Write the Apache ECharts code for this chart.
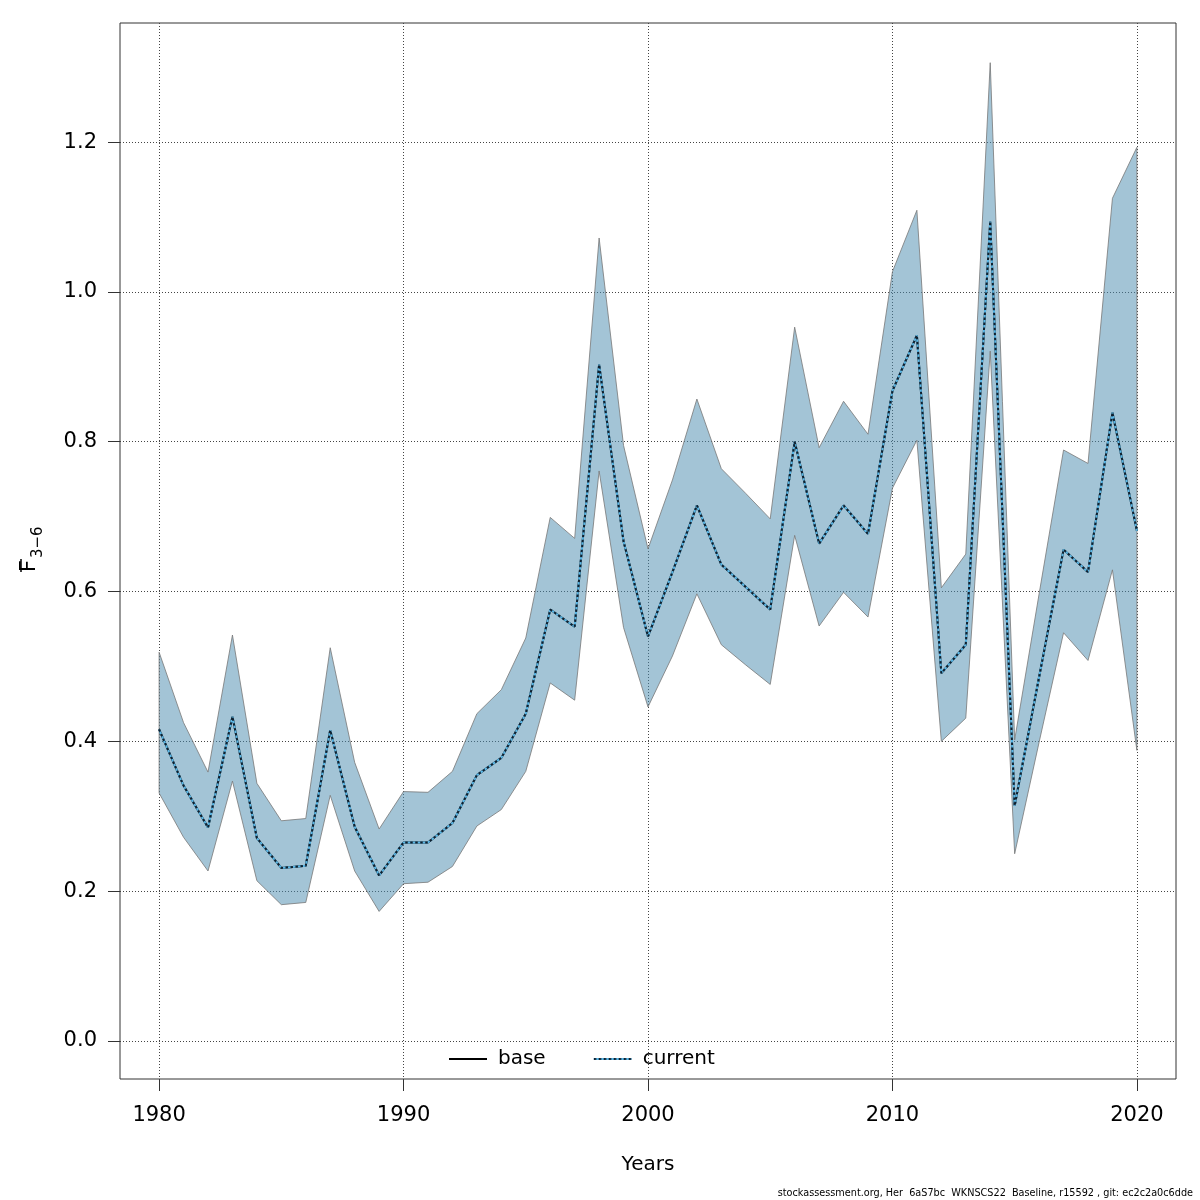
<!DOCTYPE html>
<html>
<head>
<meta charset="utf-8">
<script src="https://cdn.jsdelivr.net/npm/echarts@6/dist/echarts.min.js"></script>
<style>
  html, body { margin: 0; padding: 0; background: #fff; }
  #main { width: 1200px; height: 1200px; }
</style>
</head>
<body>
<div id="main"></div>
<script>
// years 1980-2020
var years = [];
for (var yr = 1980; yr <= 2020; yr++) { years.push(yr); }

// lower / upper confidence limit of mean F3-6
var lowerF = [0.331, 0.272, 0.227, 0.347, 0.214, 0.182, 0.185, 0.328, 0.227, 0.173,
    0.210, 0.212, 0.233, 0.287, 0.309, 0.360, 0.478, 0.455, 0.761, 0.552,
    0.446, 0.514, 0.597, 0.529, 0.502, 0.476, 0.675, 0.554, 0.599, 0.566,
    0.738, 0.802, 0.400, 0.431, 0.921, 0.250, 0.399, 0.545, 0.508, 0.629, 0.388];
var upperF = [0.519, 0.425, 0.359, 0.542, 0.344, 0.294, 0.297, 0.525, 0.372, 0.283,
    0.333, 0.332, 0.360, 0.437, 0.469, 0.538, 0.699, 0.671, 1.072, 0.795,
    0.657, 0.749, 0.857, 0.764, 0.731, 0.697, 0.953, 0.792, 0.854, 0.810,
    1.027, 1.109, 0.605, 0.650, 1.306, 0.402, 0.597, 0.789, 0.771, 1.125, 1.193];
// estimates
var baseF = [0.416, 0.341, 0.285, 0.433, 0.271, 0.231, 0.234, 0.415, 0.286, 0.221,
    0.265, 0.265, 0.291, 0.355, 0.378, 0.437, 0.576, 0.553, 0.903, 0.667,
    0.540, 0.626, 0.715, 0.636, 0.606, 0.576, 0.800, 0.664, 0.715, 0.677,
    0.868, 0.942, 0.491, 0.529, 1.094, 0.314, 0.486, 0.656, 0.626, 0.839, 0.681];
var currentF = [0.416, 0.341, 0.285, 0.433, 0.271, 0.231, 0.234, 0.415, 0.286, 0.221,
    0.265, 0.265, 0.291, 0.355, 0.378, 0.437, 0.576, 0.553, 0.903, 0.667,
    0.540, 0.626, 0.715, 0.636, 0.606, 0.576, 0.800, 0.664, 0.715, 0.677,
    0.868, 0.942, 0.491, 0.529, 1.094, 0.314, 0.486, 0.656, 0.626, 0.839, 0.681];

// tick labels
var xTicks = [1980, 1990, 2000, 2010, 2020];
var yTicks = [0, 0.2, 0.4, 0.6, 0.8, 1.0, 1.2];

var FONT = 'DejaVu Sans';
var BLUE = '#5ab8e8';

function pairs(ys) {
    var out = [];
    for (var i = 0; i < years.length; i++) { out.push([years[i], ys[i]]); }
    return out;
}

// confidence band polygon: upper edge forward, lower edge back
function renderBand(params, api) {
    if (params.dataIndex !== 0) { return null; }
    var pts = [];
    var i;
    for (i = 0; i < years.length; i++) { pts.push(api.coord([years[i], upperF[i]])); }
    for (i = years.length - 1; i >= 0; i--) { pts.push(api.coord([years[i], lowerF[i]])); }
    return {
        type: 'polygon',
        shape: { points: pts },
        style: { fill: 'rgba(72,137,173,0.5)', stroke: 'rgba(120,120,120,0.8)', lineWidth: 1 }
    };
}

// black/blue striped pattern for the "current" legend key
var stripe = document.createElement('canvas');
stripe.width = 5; stripe.height = 5;
var sctx = stripe.getContext('2d');
sctx.fillStyle = BLUE; sctx.fillRect(0, 0, 5, 5);
sctx.fillStyle = '#10202e'; sctx.fillRect(0, 0, 2.5, 5);

var myChart = echarts.init(document.getElementById('main'));
var option = {
    backgroundColor: '#ffffff',
    animation: false,
    grid: {
        left: 120, top: 23, width: 1056, height: 1056,
        show: true, borderColor: '#333', borderWidth: 1, backgroundColor: 'transparent'
    },
    xAxis: {
        type: 'value',
        min: 1978.4, max: 2021.6,
        axisLine: { show: false, onZero: false },
        axisTick: { show: true, inside: false, length: 12, customValues: xTicks,
            lineStyle: { color: '#333', width: 1 } },
        axisLabel: { customValues: xTicks, margin: 26, color: '#000', fontSize: 21, fontFamily: FONT,
            formatter: function (v) { return String(v); } },
        splitLine: { show: true, lineStyle: { color: '#444', width: 1, type: [1, 2] } },
        name: 'Years', nameLocation: 'middle', nameGap: 76,
        nameTextStyle: { color: '#000', fontSize: 20, fontFamily: FONT }
    },
    yAxis: {
        type: 'value',
        min: -0.0507, max: 1.359,
        axisLine: { show: false, onZero: false },
        axisTick: { show: true, inside: false, length: 12, customValues: yTicks,
            lineStyle: { color: '#333', width: 1 } },
        axisLabel: { customValues: yTicks, margin: 23, color: '#000', fontSize: 21, fontFamily: FONT,
            formatter: function (v) { return v.toFixed(1); } },
        splitLine: { show: true, lineStyle: { color: '#444', width: 1, type: [1, 2] } }
    },
    legend: {
        data: [
            'base',
            { name: 'current', lineStyle: { color: { image: stripe, repeat: 'repeat' }, type: 'solid', width: 2 } }
        ],
        left: 443, top: 1044,
        itemWidth: 38, itemHeight: 14, itemGap: 47,
        itemStyle: { opacity: 0 },
        textStyle: { color: '#000', fontSize: 20, fontFamily: FONT, padding: [0, 0, 0, 6] }
    },
    series: [
        {
            name: 'band', type: 'custom', data: [[years[0], lowerF[0]]],
            renderItem: renderBand, silent: true, clip: true, z: 1
        },
        {
            name: 'base', type: 'line', data: pairs(baseF),
            symbol: 'none', z: 3,
            lineStyle: { color: '#000000', width: 2 },
            itemStyle: { color: '#000000' }
        },
        {
            name: 'current blue', type: 'line', data: pairs(currentF),
            symbol: 'none', z: 4, silent: true,
            lineStyle: { color: BLUE, width: 2 }
        },
        {
            name: 'current', type: 'line', data: pairs(currentF),
            symbol: 'none', z: 5,
            lineStyle: { color: '#10202e', width: 2, type: [2.5, 2.5] },
            itemStyle: { color: '#10202e' }
        }
    ],
    graphic: [
        {
            type: 'group', x: 33, y: 552, rotation: Math.PI / 2,
            children: [
                { type: 'text', x: -20, y: -3,
                  style: { text: 'F', fontSize: 21, fontFamily: FONT, fill: '#000',
                           align: 'left', verticalAlign: 'middle' } },
                { type: 'text', x: -6, y: 5,
                  style: { text: '3\u22126', fontSize: 15, fontFamily: FONT, fill: '#000',
                           align: 'left', verticalAlign: 'middle' } },
                { type: 'line', shape: { x1: -20, y1: -12, x2: -7, y2: -12 },
                  style: { stroke: '#000', lineWidth: 1.5 } }
            ]
        },
        {
            type: 'text', right: 7, top: 1188,
            style: { text: 'stockassessment.org, Her  6aS7bc  WKNSCS22  Baseline, r15592 , git: ec2c2a0c6dde',
                     fontSize: 9.7, fontFamily: FONT, fill: '#000' }
        }
    ]
};
myChart.setOption(option);
</script>
</body>
</html>
